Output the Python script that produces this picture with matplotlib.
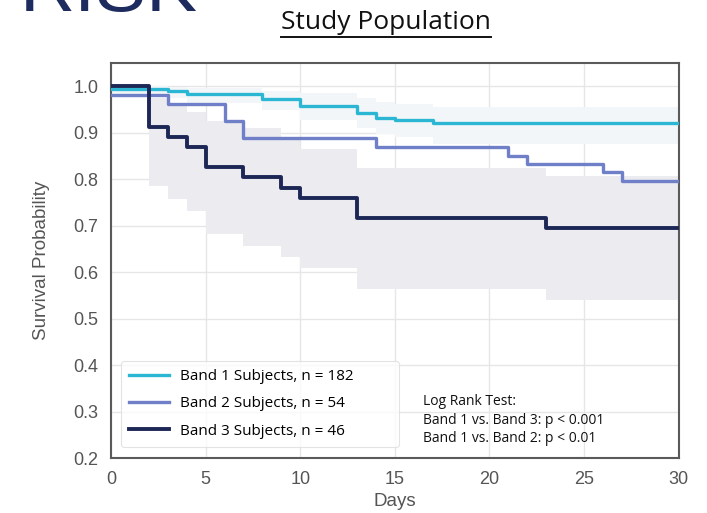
import matplotlib.pyplot as plt
from matplotlib.lines import Line2D
import numpy as np

# Kaplan-Meier step data
band1_days = [0, 3, 4, 8, 10, 13, 14, 15, 17, 30]
band1_surv = [0.994, 0.989, 0.984, 0.973, 0.957, 0.943, 0.932, 0.927, 0.921, 0.921]
band1_lo = [0.984, 0.975, 0.965, 0.950, 0.927, 0.910, 0.897, 0.890, 0.875, 0.875]
band1_hi = [1.000, 0.999, 0.997, 0.990, 0.985, 0.975, 0.967, 0.962, 0.955, 0.955]

band2_days = [0, 3, 6, 7, 14, 21, 22, 26, 27, 30]
band2_surv = [0.981, 0.962, 0.925, 0.888, 0.870, 0.851, 0.833, 0.815, 0.797, 0.797]

band3_days = [0, 2, 3, 4, 5, 7, 9, 10, 13, 23, 30]
band3_surv = [1.0, 0.913, 0.891, 0.869, 0.826, 0.804, 0.782, 0.760, 0.717, 0.695, 0.695]
band3_lo = [1.0, 0.785, 0.758, 0.731, 0.682, 0.657, 0.632, 0.609, 0.563, 0.540, 0.540]
band3_hi = [1.0, 0.975, 0.960, 0.945, 0.925, 0.910, 0.890, 0.865, 0.825, 0.808, 0.808]

labels = ["Band 1 Subjects, n = 182", "Band 2 Subjects, n = 54", "Band 3 Subjects, n = 46"]
colors = ["#2bb6d3", "#7080c8", "#1c2755"]

narrow = ['Liberation Sans Narrow', 'Open Sans', 'DejaVu Sans']
plt.rcParams['font.family'] = ['Liberation Sans', 'DejaVu Sans']

fig = plt.figure(figsize=(7.07, 5.13), dpi=100)
ax = fig.add_axes([0.157, 0.107, 0.803, 0.770])

ax.fill_between(band3_days, band3_lo, band3_hi, step='post', color='#ebebf0', lw=0, zorder=1)
ax.fill_between(band1_days, band1_lo, band1_hi, step='post', color='#f3f6f8', lw=0, zorder=1.1)

ax.step(band1_days, band1_surv, where='post', color=colors[0], lw=2.4, label=labels[0], zorder=3)
ax.step(band2_days, band2_surv, where='post', color=colors[1], lw=2.4, label=labels[1], zorder=3)
ax.step(band3_days, band3_surv, where='post', color=colors[2], lw=2.8, label=labels[2], zorder=3)

ax.set_xlim(0, 30)
ax.set_ylim(0.2, 1.05)
ax.set_xticks(np.arange(0, 31, 5))
ax.set_yticks(np.arange(0.2, 1.01, 0.1))
ax.set_yticklabels([f"{v:.1f}" for v in np.arange(0.2, 1.01, 0.1)])
ax.grid(True, color='#e6e6e8', lw=1, zorder=0)
ax.set_axisbelow(True)
ax.tick_params(length=0, labelsize=13, labelcolor='#555555', pad=9)
for s in ax.spines.values():
    s.set_color('#5a5a5a')
    s.set_linewidth(1.5)

ax.set_xlabel("Days", fontsize=13.5, color='#555555', labelpad=4)
ax.set_ylabel("Survival Probability", fontsize=13.5, color='#555555', labelpad=17)

leg = ax.legend(loc='lower left', bbox_to_anchor=(0.0176, 0.028, 0.49, 0.2), mode='expand',
                borderaxespad=0, frameon=True,
                prop={'family': narrow, 'size': 11}, handlelength=2.6,
                labelspacing=0.8, borderpad=0.55, handletextpad=0.7)
leg.get_frame().set_edgecolor('#dddddd')
leg.get_frame().set_linewidth(0.8)

ax.text(0.549, 0.096, "Log Rank Test:\nBand 1 vs. Band 3: p < 0.001\nBand 1 vs. Band 2: p < 0.01",
        transform=ax.transAxes, ha='left', va='center', fontsize=10, family=narrow,
        linespacing=1.3, color='#111111')

title = fig.text(0.546, 0.957, "Study Population", ha='center', va='center',
                 fontsize=19, family=narrow, color='#111111')
fig.text(0.028, 1.0 - 11 / 513, "RISK", ha='left', va='baseline', fontsize=55,
         color='#1d2b5e', family=['Liberation Sans', 'DejaVu Sans'])

fig.canvas.draw()
bb = title.get_window_extent().transformed(fig.transFigure.inverted())
fig.add_artist(Line2D([bb.x0, bb.x1], [bb.y0 - 0.004, bb.y0 - 0.004],
                      color='#111111', lw=1.4, transform=fig.transFigure))

fig.savefig("out.png", dpi=100)
